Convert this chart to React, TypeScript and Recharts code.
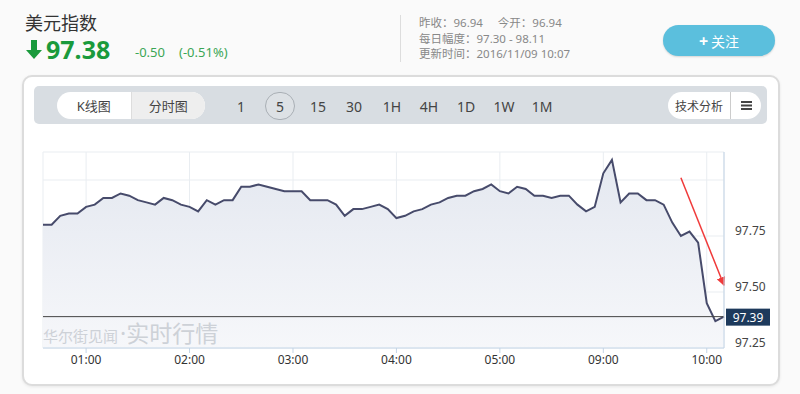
import React from 'react'
import {
  AreaChart,
  Area,
  XAxis,
  YAxis,
  CartesianGrid,
  ReferenceLine,
} from 'recharts'

// 5-minute bars, 00:35 - 05:55 then 09:00 - 10:10
const times = [
  '00:35', '00:40', '00:45', '00:50', '00:55',
  '01:00', '01:05', '01:10', '01:15', '01:20', '01:25', '01:30', '01:35', '01:40', '01:45', '01:50', '01:55',
  '02:00', '02:05', '02:10', '02:15', '02:20', '02:25', '02:30', '02:35', '02:40', '02:45', '02:50', '02:55',
  '03:00', '03:05', '03:10', '03:15', '03:20', '03:25', '03:30', '03:35', '03:40', '03:45', '03:50', '03:55',
  '04:00', '04:05', '04:10', '04:15', '04:20', '04:25', '04:30', '04:35', '04:40', '04:45', '04:50', '04:55',
  '05:00', '05:05', '05:10', '05:15', '05:20', '05:25', '05:30', '05:35', '05:40', '05:45', '05:50', '05:55',
  '09:00', '09:05', '09:10', '09:15', '09:20', '09:25', '09:30', '09:35', '09:40', '09:45', '09:50', '09:55',
  '10:00', '10:05', '10:10',
]

const prices = [
  97.80, 97.80, 97.84, 97.85, 97.85,
  97.88, 97.89, 97.92, 97.92, 97.94, 97.93, 97.91, 97.90, 97.89, 97.92, 97.91, 97.89,
  97.88, 97.86, 97.91, 97.89, 97.91, 97.91, 97.97, 97.97, 97.98, 97.97, 97.96, 97.95,
  97.95, 97.95, 97.91, 97.91, 97.91, 97.89, 97.84, 97.87, 97.87, 97.88, 97.89, 97.87,
  97.83, 97.84, 97.86, 97.87, 97.89, 97.90, 97.92, 97.93, 97.93, 97.95, 97.96, 97.98,
  97.95, 97.94, 97.97, 97.96, 97.93, 97.93, 97.92, 97.93, 97.93, 97.89, 97.86, 97.88,
  98.03, 98.09, 97.90, 97.94, 97.94, 97.91, 97.91, 97.89, 97.81, 97.75, 97.77, 97.72,
  97.45, 97.37, 97.39,
]

const hourTicks = ['01:00', '02:00', '03:00', '04:00', '05:00', '09:00', '10:00']
const priceTicks = [97.25, 97.5, 97.75, 98.0]
const lastPrice = 97.39
const periods = ['1', '5', '15', '30', '1H', '4H', '1D', '1W', '1M']

const data = times.map((t, i) => ({ time: t, price: prices[i] }))

const FONT = '"Noto Sans", "Noto Sans CJK SC", sans-serif'

function PriceTick(props: { x?: number; y?: number; payload?: { value: number } }) {
  const { x = 0, y = 0, payload } = props
  if (!payload || payload.value >= 98) return null
  return (
    <text x={x + 3} y={y - 6} dominantBaseline="central" fontSize={12} fill="#444" fontFamily={FONT}>
      {payload.value.toFixed(2)}
    </text>
  )
}

function LastLabel(props: { viewBox?: { x: number; y: number; width: number } }) {
  const vb = props.viewBox
  if (!vb) return null
  const x = vb.x + vb.width + 2
  return (
    <g>
      <rect x={x} y={vb.y - 8} width={44} height={17} fill="#1d3a5c" />
      <text x={x + 22} y={vb.y + 1} textAnchor="middle" dominantBaseline="central" fontSize={12} fill="#fff" fontFamily={FONT}>
        {lastPrice.toFixed(2)}
      </text>
    </g>
  )
}

function ArrowShape(props: { x1?: number; y1?: number; x2?: number; y2?: number }) {
  const { x1 = 0, y1 = 0, x2 = 0, y2 = 0 } = props
  return (
    <line x1={x1} y1={y1} x2={x2} y2={y2} stroke="#f03a3a" strokeWidth={1.5} markerEnd="url(#redArrow)" />
  )
}

export default function App() {
  return (
    <div style={{ position: 'absolute', left: 0, top: 0, width: 800, height: 394, background: '#fafafa', fontFamily: FONT, overflow: 'hidden' }}>
      {/* header */}
      <div style={{ position: 'absolute', left: 25, top: 13, fontSize: 18, lineHeight: '20px', color: '#333' }}>美元指数</div>
      <svg style={{ position: 'absolute', left: 25, top: 40 }} width={18} height={20} viewBox="0 0 18 20">
        <path d="M6 0 H12 V10 H17 L9 19 L1 10 H6 Z" fill="#1a9a3c" />
      </svg>
      <div style={{ position: 'absolute', left: 46, top: 39, fontSize: 25, lineHeight: '20px', fontWeight: 700, color: '#1a9a3c' }}>97.38</div>
      <div style={{ position: 'absolute', left: 135, top: 44, fontSize: 13, lineHeight: '16px', color: '#3aa655' }}>-0.50</div>
      <div style={{ position: 'absolute', left: 179, top: 44, fontSize: 13, lineHeight: '16px', color: '#3aa655' }}>(-0.51%)</div>

      <div style={{ position: 'absolute', left: 400, top: 15, width: 1, height: 47, background: '#ddd' }} />
      <div style={{ position: 'absolute', left: 419, top: 15, fontSize: 11.5, color: '#888', lineHeight: '15.5px' }}>
        <div>昨收：96.94&nbsp;&nbsp;&nbsp;&nbsp;&nbsp;今开：96.94</div>
        <div>每日幅度：97.30 - 98.11</div>
        <div>更新时间：2016/11/09 10:07</div>
      </div>
      <div style={{ position: 'absolute', left: 663, top: 25, width: 112, height: 31, borderRadius: 16, background: '#5bbfdd', color: '#fff', fontSize: 14, display: 'flex', alignItems: 'center', justifyContent: 'center', boxShadow: '0 1px 2px rgba(0,0,0,0.15)' }}>
        <span style={{ fontWeight: 700, fontSize: 16, marginRight: 3 }}>+</span>关注
      </div>

      {/* card */}
      <div style={{ position: 'absolute', left: 22, top: 75, width: 754, height: 307, border: '2px solid #dcdcdc', borderRadius: 10, background: '#fff', boxShadow: '0 1px 3px rgba(0,0,0,0.08)' }} />

      {/* toolbar */}
      <div style={{ position: 'absolute', left: 34, top: 86, width: 733, height: 38, borderRadius: 5, background: '#d8dde2' }} />
      <div style={{ position: 'absolute', left: 57, top: 92, width: 148, height: 27, borderRadius: 14, background: '#fff', overflow: 'hidden', display: 'flex', fontSize: 13, color: '#444' }}>
        <div style={{ width: 74, display: 'flex', alignItems: 'center', justifyContent: 'center' }}>K线图</div>
        <div style={{ width: 74, background: '#eeeeee', borderLeft: '1px solid #ddd', display: 'flex', alignItems: 'center', justifyContent: 'center' }}>分时图</div>
      </div>
      {periods.map((p, i) => {
        const cx = [241, 280, 318, 354, 392, 429, 466, 504, 542][i]
        return (
          <div key={p} style={{ position: 'absolute', left: cx - 15, top: 92, width: 30, height: 28, display: 'flex', alignItems: 'center', justifyContent: 'center', fontSize: 14, color: '#444', borderRadius: 15, boxSizing: 'border-box', border: p === '5' ? '1.5px solid #a9afb5' : 'none', background: p === '5' ? '#dde1e5' : 'transparent' }}>
            {p}
          </div>
        )
      })}
      <div style={{ position: 'absolute', left: 668, top: 92, width: 93, height: 27, borderRadius: 14, background: '#fff', display: 'flex', fontSize: 12, color: '#444' }}>
        <div style={{ width: 62, display: 'flex', alignItems: 'center', justifyContent: 'center', borderRight: '1px solid #ccc' }}>技术分析</div>
        <div style={{ width: 30, display: 'flex', alignItems: 'center', justifyContent: 'center' }}>
          <svg width={11} height={9}>
            <rect x={0} y={0} width={11} height={2} fill="#444" />
            <rect x={0} y={3.5} width={11} height={2} fill="#444" />
            <rect x={0} y={7} width={11} height={2} fill="#444" />
          </svg>
        </div>
      </div>

      <div style={{ position: 'absolute', left: 0, top: 0 }}>
        <AreaChart width={800} height={394} data={data} margin={{ top: 152, right: 30, left: 43, bottom: 16 }}>
          <defs>
            <linearGradient id="dxyFill" x1="0" y1="0" x2="0" y2="1">
              <stop offset="0%" stopColor="#e4e8f0" stopOpacity={1} />
              <stop offset="100%" stopColor="#f6f7fa" stopOpacity={1} />
            </linearGradient>
            <marker id="redArrow" viewBox="0 0 10 10" refX="9" refY="5" markerWidth="6" markerHeight="6" orient="auto-start-reverse">
              <path d="M0 0 L10 5 L0 10 z" fill="#f03a3a" />
            </marker>
          </defs>
          <CartesianGrid stroke="#e9edf1" />
          <XAxis
            dataKey="time"
            ticks={hourTicks}
            interval={0}
            height={30}
            axisLine={{ stroke: '#c3d4e6' }}
            tickLine={{ stroke: '#c3d4e6' }}
            tickSize={5}
            tick={{ fontSize: 12, fill: '#333', fontFamily: FONT }}
          />
          <YAxis
            orientation="right"
            width={46}
            domain={[97.25, 98.125]}
            allowDataOverflow
            ticks={priceTicks}
            axisLine={{ stroke: '#c3d4e6' }}
            tickLine={false}
            tick={<PriceTick />}
          />
          <Area
            type="linear"
            dataKey="price"
            stroke="#474b6b"
            strokeWidth={2}
            fill="url(#dxyFill)"
            fillOpacity={1}
            dot={false}
            activeDot={false}
            isAnimationActive={false}
          />
          <ReferenceLine y={lastPrice} stroke="#444" strokeWidth={1} label={<LastLabel />} />
          <ReferenceLine
            segment={[{ x: '09:45', y: 98.01 }, { x: '10:10', y: 97.53 }]}
            shape={<ArrowShape />}
            ifOverflow="visible"
          />
        </AreaChart>
      </div>

      {/* watermark */}
      <div style={{ position: 'absolute', left: 43, top: 320, lineHeight: '26px', color: '#cdd1d7', whiteSpace: 'nowrap', pointerEvents: 'none' }}>
        <span style={{ fontSize: 15 }}>华尔街见闻</span>
        <span style={{ fontSize: 23, marginLeft: 2 }}>·实时行情</span>
      </div>
    </div>
  )
}
